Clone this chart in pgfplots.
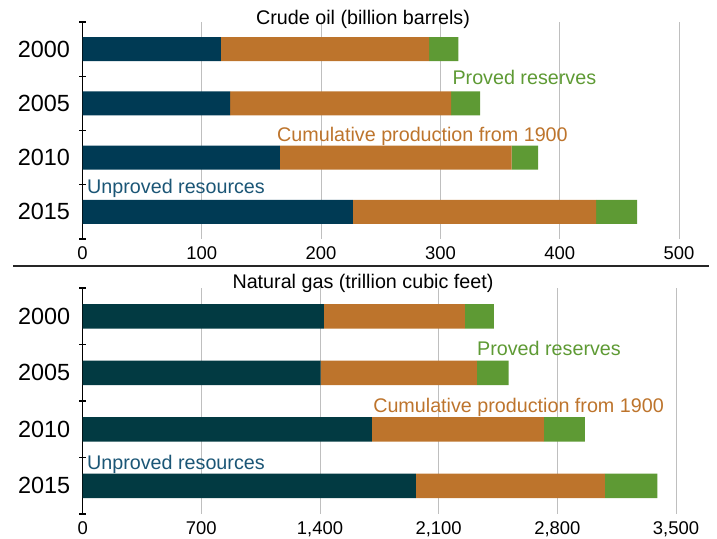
\documentclass[border=0pt]{standalone}
\usepackage{pgfplots}
\pgfplotsset{compat=1.18}
\usepackage{fontspec}
\setmainfont{Liberation Sans}
\definecolor{unpA}{HTML}{003A54}
\definecolor{unpB}{HTML}{023A42}
\definecolor{cumc}{HTML}{BD742C}
\definecolor{prvc}{HTML}{5E9A34}
\definecolor{unptxt}{HTML}{1B5676}
\definecolor{gridc}{HTML}{BFBFBF}
\tikzset{lbl/.style={anchor=base west, font=\fontsize{19.8}{19.8}\selectfont, inner sep=0pt}}
\pgfplotstableread{
y unp cum prv
0 116   174.6 24.4
1 123.8 185.2 24.4
2 165.5 194.1 22.4
3 226.6 204.0 34.4
}\oiltab
\pgfplotstableread{
y unp cum prv
0 1423 831  171
1 1403 922  187
2 1706 1014 242
3 1965 1115 310
}\gastab
\pgfplotsset{
  mystyle/.style={
    scale only axis,
    xbar stacked,
    y dir=reverse,
    ymin=-0.5, ymax=3.5,
    ytick={0,1,2,3},
    yticklabels={2000,2005,2010,2015},
    minor ytick={-0.5,0.5,1.5,2.5,3.5},
    major tick length=0pt,
    minor tick length=6.5bp,
    tick align=outside,
    axis x line=bottom,
    axis y line=left,
    axis line style={-},
    x axis line style={draw=none},
    y axis line style={black, line width=1.2bp},
    minor tick style={black, line width=1.2bp},
    xmajorgrids,
    grid style={gridc, line width=1bp},
    yticklabel style={font=\fontsize{23.5}{23.5}\selectfont, xshift=-9bp},
    xticklabel style={font=\fontsize{18.5}{18.5}\selectfont, yshift=-4bp},
    /pgf/number format/assume math mode=true,
    every axis plot/.append style={draw=none},
  }
}
\begin{document}
\begin{tikzpicture}
\useasboundingbox (0,0) rectangle (717bp,-539bp);
% top panel
\begin{axis}[mystyle,
  anchor=north west, at={(82.5bp,-22bp)},
  width=596.5bp, height=217bp,
  xmin=0, xmax=500,
  xtick={0,100,200,300,400,500},
  bar width=24bp]
\addplot[fill=unpA] table[x=unp,y=y] {\oiltab};
\addplot[fill=cumc] table[x=cum,y=y] {\oiltab};
\addplot[fill=prvc] table[x=prv,y=y] {\oiltab};
\node[lbl, text=prvc] at (axis cs:310,0.648) {Proved reserves};
\node[lbl, text=cumc] at (axis cs:163,1.706) {Cumulative production from 1900};
\node[lbl, text=unptxt] at (axis cs:3.8,2.670) {Unproved resources};
\end{axis}
\node[font=\fontsize{19.8}{19.8}\selectfont] at (363bp,-19bp) {Crude oil (billion barrels)};
\draw[line width=2bp, black!85] (13bp,-265.5bp) -- (709bp,-265.5bp);
% bottom panel
\begin{axis}[mystyle,
  anchor=north west, at={(82.7bp,-288bp)},
  width=593.3bp, height=226bp,
  xmin=0, xmax=3500,
  xtick={0,700,1400,2100,2800,3500},
  xticklabels={0,700,{1,400},{2,100},{2,800},{3,500}},
  bar width=24.5bp]
\addplot[fill=unpB] table[x=unp,y=y] {\gastab};
\addplot[fill=cumc] table[x=cum,y=y] {\gastab};
\addplot[fill=prvc] table[x=prv,y=y] {\gastab};
\node[lbl, text=prvc] at (axis cs:2326,0.686) {Proved reserves};
\node[lbl, text=cumc] at (axis cs:1713,1.712) {Cumulative production from 1900};
\node[lbl, text=unptxt] at (axis cs:25,2.704) {Unproved resources};
\end{axis}
\node[font=\fontsize{19.8}{19.8}\selectfont] at (363bp,-283bp) {Natural gas (trillion cubic feet)};
\end{tikzpicture}
\end{document}
